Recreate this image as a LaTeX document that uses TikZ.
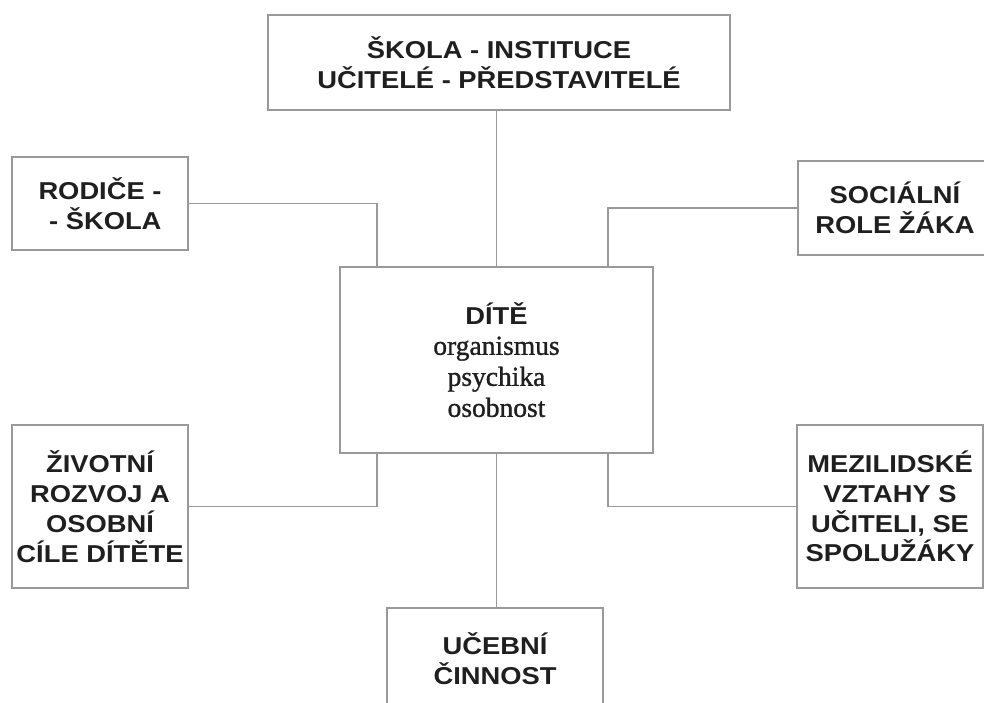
\documentclass[tikz,border=0pt]{standalone}
\usepackage{fontspec}
\setmainfont[FakeBold=1.2]{Liberation Serif}
\setsansfont[FakeStretch=1.12]{Liberation Sans}
\usetikzlibrary{calc}

\begin{document}
\begin{tikzpicture}[x=1pt, y=-1pt,
  box/.style={draw=black!40, line width=1.3pt, align=center, inner sep=0pt,
    text=black!88, font=\sffamily\bfseries\fontsize{24.4}{29.8}\selectfont},
  link/.style={draw=black!40, line width=1.3pt}]
  \clip (0,0) rectangle (984,702);

  \node[box, minimum width=462pt, minimum height=95pt] (skola) at (499,62.5)
    {ŠKOLA - INSTITUCE\\UČITELÉ - PŘEDSTAVITELÉ};
  \node[box, align=right, minimum width=176pt, minimum height=93pt] (rodice) at (100,203.5)
    {RODIČE -\\- ŠKOLA};
  \node[box, minimum width=194pt, minimum height=94pt] (role) at (895,208)
    {SOCIÁLNÍ\\ROLE ŽÁKA};
  \node[box, minimum width=313pt, minimum height=186pt,
    font=\rmfamily\fontsize{27.5}{31}\selectfont] (dite) at (496.5,360)
    {{\sffamily\bfseries\fontsize{24.4}{29.8}\selectfont DÍTĚ}\\[-1pt]organismus\\psychika\\osobnost};
  \node[box, minimum width=176pt, minimum height=163pt] (rozvoj) at (100,506.5)
    {ŽIVOTNÍ\\ROZVOJ A\\OSOBNÍ\\CÍLE DÍTĚTE};
  \node[box, minimum width=186pt, minimum height=163pt] (vztahy) at (890,506.5)
    {MEZILIDSKÉ\\VZTAHY S\\UČITELI, SE\\SPOLUŽÁKY};
  \node[box, minimum width=216pt, minimum height=101pt] (cinnost) at (495,658.5)
    {UČEBNÍ\\ČINNOST};

  % attachment points on the child box
  \coordinate (nw) at ($(dite.north)+(-119.5,0)$);
  \coordinate (ne) at ($(dite.north)+(111.5,0)$);
  \coordinate (sw) at ($(dite.south)+(-119.5,0)$);
  \coordinate (se) at ($(dite.south)+(111.5,0)$);

  \draw[link] (skola.south -| dite.north) -- (dite.north);
  \draw[link] (rodice.east) -| (nw);
  \draw[link] (role.west) -| (ne);
  \draw[link] (rozvoj.east) -| (sw);
  \draw[link] (vztahy.west) -| (se);
  \draw[link] (dite.south) -- (dite.south |- cinnost.north);
\end{tikzpicture}
\end{document}
